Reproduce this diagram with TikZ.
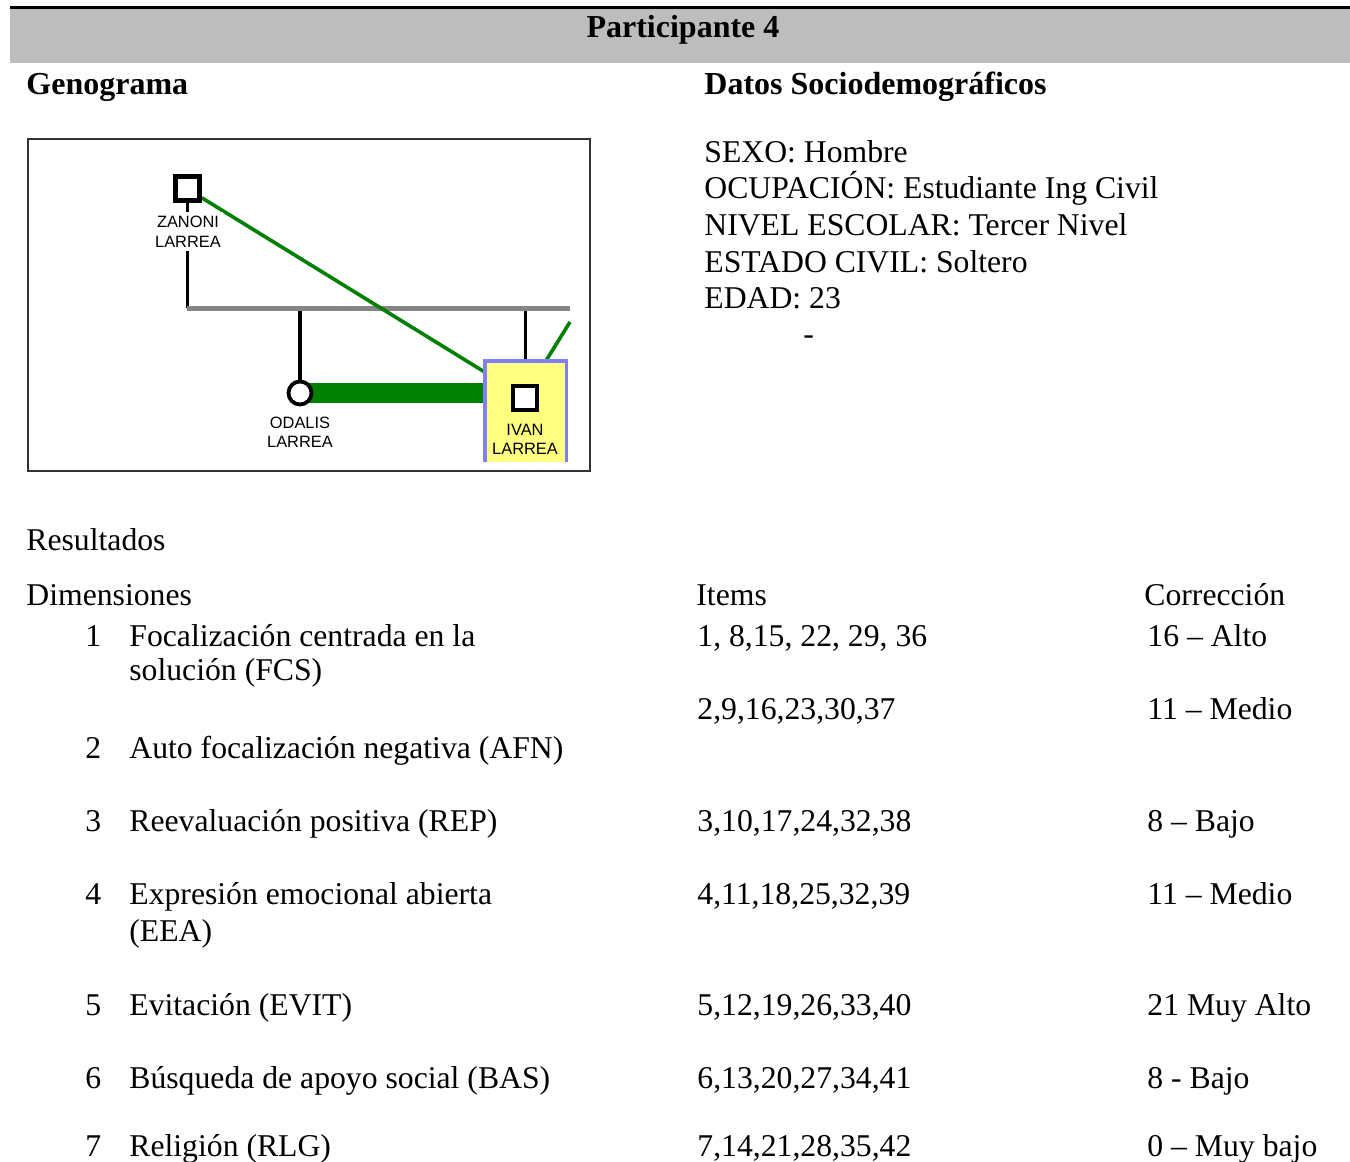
\documentclass[tikz,border=0pt]{standalone}
\usepackage{fontspec}
\setmainfont{Liberation Serif}
\newfontfamily\gsans{Liberation Sans}
\usetikzlibrary{backgrounds}
\definecolor{bandgray}{HTML}{BDBDBD}
\definecolor{gengreen}{HTML}{008000}
\definecolor{sibgray}{HTML}{858585}
\definecolor{ivanyellow}{HTML}{FFFF80}
\definecolor{ivanblue}{HTML}{8080FF}
\definecolor{framegray}{HTML}{333333}
\begin{document}
\begin{tikzpicture}[x=0.5pt,y=-0.5pt,
  txt/.style={anchor=base west, inner sep=0pt, font=\fontsize{15.85}{18.5}\selectfont},
  hd/.style={anchor=base west, inner sep=0pt, font=\fontsize{16}{18.5}\selectfont\bfseries},
  glab/.style={anchor=north, inner sep=0pt, align=center, font=\gsans\fontsize{8.2}{9.8}\selectfont},
  male/.style={rectangle, draw=black, line width=2.4pt, fill=white, minimum size=12pt, inner sep=0pt},
  female/.style={circle, draw=black, line width=1.9pt, fill=white, minimum size=11.5pt, inner sep=0pt},
  kin/.style={draw=black, line width=1.7pt},
  closeline/.style={draw=gengreen, line width=1.8pt},
  fusedline/.style={draw=gengreen, line width=10pt}
]
\useasboundingbox (0,0) rectangle (1350,1162);

% header band
\fill[bandgray] (10,8.5) rectangle (1350,63);
\draw[line width=1.3pt] (10,7.5) -- (1350,7.5);
\node[hd, anchor=base] (title) at (683,37) {Participante 4};

\node[hd] (hgen) at (26,94) {Genograma};
\node[hd] (hdat) at (704,94) {Datos Sociodemográficos};

% genogram frame
\draw[framegray, line width=0.6pt] (28,139) rectangle (590,471);

% persons
\node[male] (zanoni) at (187.5,188.5) {};
\node[glab, fill=white, inner xsep=1pt, inner ysep=2pt] (zlab) at (188,212) {ZANONI\\LARREA};
\node[female] (odalis) at (300,393) {};
\node[glab] (olab) at (300,416.5) {ODALIS\\LARREA};
\node[rectangle, fill=ivanyellow, minimum width=40.5pt, minimum height=50.5pt, inner sep=0pt] (ivanbox) at (525.5,411.5) {};
\node[male] (ivan) at (525,398) {};
\node[glab] (ilab) at (525,423.5) {IVAN\\LARREA};

\coordinate (sibL) at (187,308);
\coordinate (sibR) at (570,308);
\coordinate (partner) at (570,322);

\begin{scope}[on background layer]
  \draw[kin] (zanoni.south) -- (zanoni.south |- sibL);
  \draw[kin] (odalis.north) -- (odalis.north |- sibL);
  \draw[kin] (ivanbox.north) -- (ivanbox.north |- sibL);
  \draw[sibgray, line width=2.5pt] (sibL) -- (sibR);
  \draw[fusedline] (odalis.center) -- (ivanbox.west |- odalis.center);
  \draw[closeline] (zanoni.-33) -- (ivanbox.136);
  \draw[closeline] (ivanbox.68) -- (partner);
\end{scope}
\draw[ivanblue, line width=1.9pt] (ivanbox.south west) -- (ivanbox.north west) -- (ivanbox.north east) -- (ivanbox.south east);
\node[male] at (ivan) {};

% sociodemographic data
\node[txt] (d1) at (704,162) {SEXO: Hombre};
\node[txt] (d2) at (704,198) {OCUPACIÓN: Estudiante Ing Civil};
\node[txt] (d3) at (704,235) {NIVEL ESCOLAR: Tercer Nivel};
\node[txt] (d4) at (704,272) {ESTADO CIVIL: Soltero};
\node[txt] (d5) at (704,308) {EDAD: 23};
\node[txt] (d6) at (803,344) {-};

% results
\node[txt] (res) at (26,550) {Resultados};
\node[txt] (dim) at (26,605) {Dimensiones};
\node[txt] (ite) at (696,605) {Items};
\node[txt] (cor) at (1144,605) {Corrección};

\node[txt] (n1) at (85,646) {1};
\node[txt] (t1) at (129,646) {Focalización centrada en la};
\node[txt] (t1b) at (129,680) {solución (FCS)};
\node[txt] (i1) at (697,646) {1, 8,15, 22, 29, 36};
\node[txt] (c1) at (1147,646) {16 – Alto};

\node[txt] (i2) at (697,719) {2,9,16,23,30,37};
\node[txt] (c2) at (1147,719) {11 – Medio};
\node[txt] (n2) at (85,758) {2};
\node[txt] (t2) at (129,758) {Auto focalización negativa (AFN)};

\node[txt] (n3) at (85,831) {3};
\node[txt] (t3) at (129,831) {Reevaluación positiva (REP)};
\node[txt] (i3) at (697,831) {3,10,17,24,32,38};
\node[txt] (c3) at (1147,831) {8 – Bajo};

\node[txt] (n4) at (85,904) {4};
\node[txt] (t4) at (129,904) {Expresión emocional abierta};
\node[txt] (t4b) at (129,941) {(EEA)};
\node[txt] (i4) at (697,904) {4,11,18,25,32,39};
\node[txt] (c4) at (1147,904) {11 – Medio};

\node[txt] (n5) at (85,1015) {5};
\node[txt] (t5) at (129,1015) {Evitación (EVIT)};
\node[txt] (i5) at (697,1015) {5,12,19,26,33,40};
\node[txt] (c5) at (1147,1015) {21 Muy Alto};

\node[txt] (n6) at (85,1088) {6};
\node[txt] (t6) at (129,1088) {Búsqueda de apoyo social (BAS)};
\node[txt] (i6) at (697,1088) {6,13,20,27,34,41};
\node[txt] (c6) at (1147,1088) {8 - Bajo};

\node[txt] (n7) at (85,1156) {7};
\node[txt] (t7) at (129,1156) {Religión (RLG)};
\node[txt] (i7) at (697,1156) {7,14,21,28,35,42};
\node[txt] (c7) at (1147,1156) {0 – Muy bajo};
\end{tikzpicture}
\end{document}
